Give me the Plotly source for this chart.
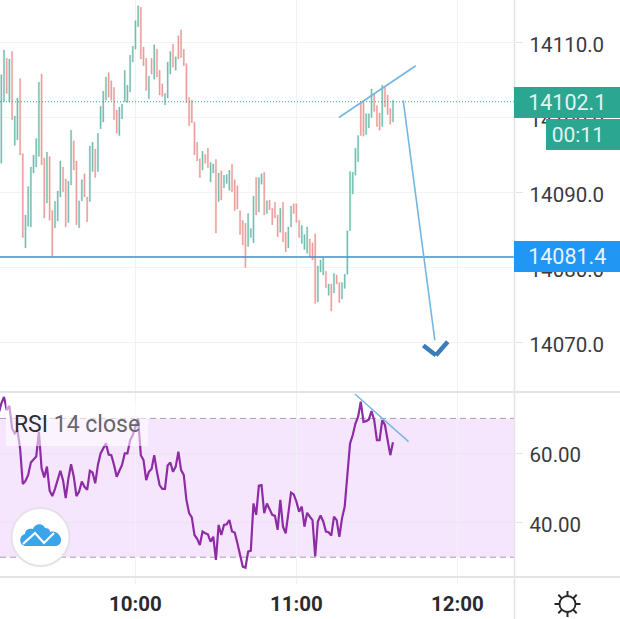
import math
import pandas as pd
import plotly.graph_objects as go

W, H = 620, 619
FIRST_BAR = "2021-01-04 09:09"

bar_high = [14099.0,14105.7,14109.0,14107.9,14107.8,14108.8,14100.2,14102.6,14105.2,14095.2,
14087.0,14090.8,14093.4,14095.0,14097.2,14104.7,14105.8,14094.6,14095.4,14094.8,
14087.6,14088.8,14090.2,14094.2,14093.4,14091.8,14091.5,14098.3,14096.9,14094.2,
14088.9,14091.7,14092.5,14089.4,14096.2,14096.7,14095.8,14097.9,14101.5,14103.5,
14105.4,14106.0,14104.9,14104.0,14101.0,14101.4,14101.8,14106.3,14104.3,14108.3,
14109.5,14112.9,14114.9,14114.7,14109.4,14107.9,14105.5,14107.9,14109.7,14109.1,
14106.3,14104.5,14103.2,14107.4,14108.8,14109.8,14108.1,14110.9,14111.7,14109.1,
14107.2,14102.7,14102.3,14099.4,14096.7,14094.5,14095.5,14095.1,14095.9,14094.0,
14093.8,14094.4,14092.6,14092.9,14092.3,14092.4,14093.0,14093.8,14091.7,14090.9,
14087.6,14086.3,14085.9,14087.2,14085.2,14089.5,14092.0,14092.0,14092.5,14092.7,
14088.9,14089.0,14087.9,14088.7,14087.0,14087.9,14088.7,14084.7,14085.4,14088.2,
14088.5,14088.5,14086.3,14085.6,14084.4,14085.4,14083.8,14083.3,14084.5,14080.2,
14081.0,14081.3,14079.5,14077.8,14077.8,14079.2,14079.0,14078.0,14078.0,14079.1,
14084.9,14092.8,14092.7,14095.9,14097.6,14102.1,14102.1,14100.5,14100.5,14103.8,
14103.2,14101.6,14100.6,14104.3,14104.1,14103.0,14101.2,14102.3]

bar_low = [14094.8,14093.9,14102.1,14103.2,14102.1,14099.7,14096.3,14097.0,14095.0,14084.0,
14082.6,14085.5,14085.4,14092.6,14093.4,14094.8,14093.7,14086.6,14088.6,14086.3,
14081.5,14085.3,14086.2,14089.4,14090.1,14085.4,14086.0,14091.0,14093.0,14085.7,
14085.3,14088.9,14089.4,14086.1,14088.8,14092.8,14092.0,14092.8,14098.5,14099.4,
14102.3,14102.7,14102.3,14099.7,14097.9,14097.6,14099.8,14102.1,14102.0,14103.4,
14107.4,14109.1,14112.1,14107.8,14106.9,14103.6,14102.5,14105.8,14105.1,14105.4,
14103.0,14102.8,14101.7,14102.6,14105.8,14106.7,14106.3,14107.8,14108.0,14106.9,
14102.0,14098.9,14099.3,14095.0,14094.2,14092.0,14093.0,14093.9,14093.3,14091.4,
14092.6,14084.6,14088.8,14089.0,14090.6,14091.2,14090.3,14090.1,14087.6,14087.8,
14084.4,14083.0,14080.0,14082.8,14084.0,14083.3,14087.0,14087.4,14091.1,14087.0,
14087.2,14087.7,14085.7,14086.6,14084.1,14084.7,14083.4,14082.1,14082.6,14085.4,
14087.2,14086.0,14084.0,14083.2,14082.4,14081.9,14081.4,14081.0,14075.2,14075.4,
14079.4,14079.0,14077.3,14076.3,14074.2,14076.6,14077.8,14075.3,14075.8,14077.2,
14079.1,14084.9,14089.8,14092.3,14094.1,14097.6,14097.5,14097.7,14098.6,14100.0,
14100.8,14098.8,14098.3,14098.8,14101.4,14100.4,14099.1,14099.4]

bar_dir = ("DUUDUDUUDD"
           "UUUUUUDDUD"
           "DUUUDDUUDD"
           "UUDDUUDUUU"
           "UDDDDUUUUU"
           "UUUDDDUDUD"
           "DDUUUDUDDD"
           "DDDDDDUDDU"
           "UDUDUUUDDD"
           "DDDUUUDUUD"
           "UDDDDUDDUU"
           "DDDUUUDDDU"
           "UUDUDUDDUU"
           "UUUUUDDUUU"
           "DDDUDDDU")

rsi_values = [71.4,74.3,76.2,72.4,73.6,67.1,65.7,66.6,61.3,51.1,
52.0,53.7,57.3,58.3,59.0,66.1,55.6,53.0,56.1,49.2,
47.6,49.7,52.2,54.9,52.2,47.0,52.7,56.8,53.2,47.6,
48.9,51.8,50.3,49.4,54.9,54.4,51.3,56.6,59.9,61.3,
62.8,59.6,59.4,56.6,53.2,54.9,56.6,59.9,59.9,63.7,
65.2,67.6,70.0,59.4,58.0,52.2,54.6,55.4,59.4,54.6,
50.8,49.7,49.7,56.4,57.3,54.6,56.1,60.4,55.1,53.7,
46.5,42.7,41.5,36.4,35.3,33.5,37.4,36.9,36.6,
34.5,35.9,29.2,39.3,36.4,39.3,39.5,40.7,37.4,37.1,
34.0,30.2,27.3,27.0,31.6,31.9,45.5,42.2,50.6,50.8,
42.7,45.5,43.6,42.2,41.9,37.9,46.5,38.8,36.9,42.7,
48.6,48.1,46.0,43.1,44.6,38.8,42.8,41.7,40.7,30.2,
40.3,42.0,40.3,37.4,37.2,36.2,41.7,40.7,35.9,41.2,
44.6,53.7,62.8,65.2,68.5,70.5,74.8,69.0,69.2,69.7,
72.1,69.5,63.7,63.7,69.5,68.1,63.3,59.4,63.1]

price_ticks = [14070, 14080, 14090, 14100, 14110]
rsi_ticks = [40, 60]
time_ticks = ["10:00", "11:00", "12:00"]
last_price = 14102.1
alert_price = 14081.4
countdown = "00:11"
rsi_upper, rsi_lower = 70, 30

# drawings: minutes after midnight and price / RSI level
wedge_min, wedge_price = [675.85, 704.5], [14100.0, 14106.9]
arrow_min, arrow_price = [699.8, 711.6], [14102.3, 14070.3]
head_min, head_price = [707.3, 712.0, 716.4], [14069.6, 14068.3, 14070.1]
rsi_line_min, rsi_line_val = [681.8, 701.8], [77.0, 63.3]

PLOT_R = 514.5 / W
PRICE_RANGE = [14063.4, 14115.67]
RSI_RANGE = [24.3, 77.6]
X_RANGE_MIN = (549.5, 741.3)
DAY = pd.Timestamp("2021-01-04")


def t(m):
    return DAY + pd.Timedelta(minutes=m)


def px(x):
    return x / W


def py(y):
    return 1 - y / H


def path(cmds):
    out = []
    for c in cmds:
        if isinstance(c, str):
            out.append(c)
        else:
            out.append(f"{px(c[0]):.5f},{py(c[1]):.5f}")
    return " ".join(out)


times = pd.date_range(FIRST_BAR, periods=len(bar_high), freq="min")
bar_open = [l if d == "U" else h for h, l, d in zip(bar_high, bar_low, bar_dir)]
bar_close = [h if d == "U" else l for h, l, d in zip(bar_high, bar_low, bar_dir)]

UP, DOWN = "#74bfb2", "#ec9e9a"
GRID = "#f0f3f6"
SEP = "#e4e4e6"
BLUE = "#3d8fc9"
LIGHT = "#74b6e3"
TEAL = "#2aa691"
FONT = "Roboto"

fig = go.Figure()
fig.add_trace(go.Candlestick(
    x=times, open=bar_open, high=bar_high, low=bar_low, close=bar_close,
    xaxis="x2", yaxis="y",
    increasing=dict(line=dict(color=UP, width=0.3), fillcolor=UP),
    decreasing=dict(line=dict(color=DOWN, width=0.3), fillcolor=DOWN),
    whiskerwidth=0, showlegend=False, hoverinfo="skip",
))
fig.add_trace(go.Scatter(
    x=times, y=rsi_values, mode="lines", xaxis="x", yaxis="y2",
    line=dict(color="#8e2ca6", width=2.2), showlegend=False, hoverinfo="skip",
))

shapes = []
# RSI band
shapes.append(dict(type="rect", xref="paper", yref="y2", x0=0, x1=PLOT_R,
                   y0=rsi_lower, y1=rsi_upper, fillcolor="#f5e6fd",
                   line=dict(width=0), layer="below"))
for lvl in (rsi_upper, rsi_lower):
    shapes.append(dict(type="line", xref="paper", yref="y2", x0=0, x1=PLOT_R,
                       y0=lvl, y1=lvl, layer="below",
                       line=dict(color="#a99bb0", width=1, dash="6px,4px")))
# price lines
shapes.append(dict(type="line", xref="paper", yref="y", x0=0, x1=PLOT_R,
                   y0=last_price, y1=last_price,
                   line=dict(color=TEAL, width=1, dash="1px,2px")))
shapes.append(dict(type="line", xref="paper", yref="y", x0=0, x1=PLOT_R,
                   y0=alert_price, y1=alert_price,
                   line=dict(color=BLUE, width=1.4)))
# drawings
shapes.append(dict(type="line", xref="x2", yref="y", x0=t(wedge_min[0]), x1=t(wedge_min[1]),
                   y0=wedge_price[0], y1=wedge_price[1], line=dict(color=LIGHT, width=1.6)))
shapes.append(dict(type="line", xref="x2", yref="y", x0=t(arrow_min[0]), x1=t(arrow_min[1]),
                   y0=arrow_price[0], y1=arrow_price[1], line=dict(color=LIGHT, width=1.6)))
for i in (0, 1):
    shapes.append(dict(type="line", xref="x2", yref="y", x0=t(head_min[i]), x1=t(head_min[i + 1]),
                       y0=head_price[i], y1=head_price[i + 1],
                       line=dict(color="#3b7cbd", width=4.5)))
shapes.append(dict(type="line", xref="x", yref="y2", x0=t(rsi_line_min[0]), x1=t(rsi_line_min[1]),
                   y0=rsi_line_val[0], y1=rsi_line_val[1], line=dict(color=LIGHT, width=1.4)))
# pane separators
for y in (392, 577):
    shapes.append(dict(type="line", xref="paper", yref="paper", x0=0, x1=1,
                       y0=py(y), y1=py(y), line=dict(color=SEP, width=2)))
shapes.append(dict(type="line", xref="paper", yref="paper", x0=PLOT_R, x1=PLOT_R,
                   y0=0, y1=1, line=dict(color=SEP, width=1.5)))
# logo
shapes.append(dict(type="circle", xref="paper", yref="paper",
                   x0=px(11.5), x1=px(69.5), y0=py(566), y1=py(508),
                   fillcolor="white", line=dict(color="#e6e1e9", width=2)))
cloud = ["M", (26, 546), "C", (19, 546), (18, 536), (25, 534),
         "C", (25, 529), (30, 528), (33, 529),
         "C", (35, 523), (43, 523), (45, 528),
         "C", (47, 528), (50, 529), (50, 532),
         "C", (56, 530), (61, 535), (61, 540),
         "C", (61, 544), (58, 546), (55, 546), "Z"]
shapes.append(dict(type="path", xref="paper", yref="paper", path=path(cloud),
                   fillcolor="#3ca4e8", line=dict(width=0)))
zig = ["M", (23, 544), "L", (35, 533), "L", (44, 543), "L", (54, 533)]
shapes.append(dict(type="path", xref="paper", yref="paper", path=path(zig),
                   line=dict(color="white", width=2.2)))
# settings icon
GX, GY = 567.5, 604
shapes.append(dict(type="circle", xref="paper", yref="paper",
                   x0=px(GX - 8), x1=px(GX + 8), y0=py(GY + 8), y1=py(GY - 8),
                   line=dict(color="#262626", width=1.8)))
for k in range(8):
    a = k * math.pi / 4
    shapes.append(dict(type="line", xref="paper", yref="paper",
                       x0=px(GX + 8 * math.cos(a)), x1=px(GX + 13 * math.cos(a)),
                       y0=py(GY + 8 * math.sin(a)), y1=py(GY + 13 * math.sin(a)),
                       line=dict(color="#262626", width=2)))

annotations = [
    dict(text=f"{last_price:.1f}", xref="paper", yref="paper",
         x=513.5 / W, y=py(102.5), xanchor="left", yanchor="middle",
         width=106.5, height=31, bgcolor=TEAL,
         font=dict(family=FONT, size=21.5, color="#e3f3f0"), showarrow=False,
         align="center", borderpad=0, borderwidth=0),
    dict(text=countdown + "&nbsp;&nbsp;", xref="paper", yref="paper",
         x=546 / W, y=py(134.5), xanchor="left", yanchor="middle",
         width=74, height=31, bgcolor=TEAL,
         font=dict(family=FONT, size=21, color="#e3f3f0"), showarrow=False,
         align="center", borderpad=0, borderwidth=0),
    dict(text=f"{alert_price:.1f}", xref="paper", yref="paper",
         x=513.5 / W, y=py(256.5), xanchor="left", yanchor="middle",
         width=106.5, height=31, bgcolor="#2196f3",
         font=dict(family=FONT, size=21.5, color="#e6f3fd"), showarrow=False,
         align="center", borderpad=0, borderwidth=0),
    dict(text='<span style="color:#2e2e33">RSI</span> <span style="color:#66666c">14 close</span>',
         xref="paper", yref="paper", x=6 / W, y=py(424), xanchor="left", yanchor="middle",
         width=142, height=44, bgcolor="rgba(255,255,255,0.55)",
         font=dict(family=FONT, size=23), showarrow=False,
         align="center", borderpad=0, borderwidth=0),
]

x_range = [t(X_RANGE_MIN[0]), t(X_RANGE_MIN[1])]
tick_vals = [pd.Timestamp(f"2021-01-04 {s}") for s in time_ticks]
common_x = dict(range=x_range, tickvals=tick_vals, showgrid=True, gridcolor=GRID, gridwidth=1,
                zeroline=False, showline=False, rangeslider=dict(visible=False))
y_font = dict(family=FONT, size=20.5, color="#3a3a3e")

fig.update_layout(
    width=W, height=H, autosize=False,
    margin=dict(l=0, r=0, t=0, b=0, pad=0),
    paper_bgcolor="white", plot_bgcolor="white",
    showlegend=False, hovermode=False, dragmode=False,
    font=dict(family=FONT),
    xaxis=dict(domain=[0, PLOT_R], anchor="y2", ticktext=time_ticks, ticks="outside", ticklen=6,
               ticklabelstandoff=2, tickcolor=GRID,
               tickfont=dict(family=FONT, size=20.5, color="#2b2b2f", weight=700),
               **common_x),
    xaxis2=dict(domain=[0, PLOT_R], anchor="y", matches="x", showticklabels=False, ticks="",
                **common_x),
    yaxis=dict(domain=[py(392), 1], range=PRICE_RANGE, anchor="x2", side="right",
               tickvals=price_ticks, ticktext=[f"{v:.1f}" for v in price_ticks],
               ticks="outside", ticklen=7, tickcolor=SEP, gridcolor=GRID, showgrid=True,
               zeroline=False, showline=False, ticklabelstandoff=3, ticklabelshift=2,
               tickfont=y_font),
    yaxis2=dict(domain=[py(577), py(392)], range=RSI_RANGE, anchor="x", side="right",
                tickvals=rsi_ticks, ticktext=[f"{v:.2f}" for v in rsi_ticks],
                ticks="outside", ticklen=7, tickcolor=SEP, gridcolor="#ebe3f0", showgrid=True,
                zeroline=False, showline=False, ticklabelstandoff=3, ticklabelshift=2,
                tickfont=y_font),
    shapes=shapes, annotations=annotations,
)

fig.write_html("out.html", config=dict(displayModeBar=False, staticPlot=True),
               post_script="document.body.style.margin='0';document.body.style.overflow='hidden';")
